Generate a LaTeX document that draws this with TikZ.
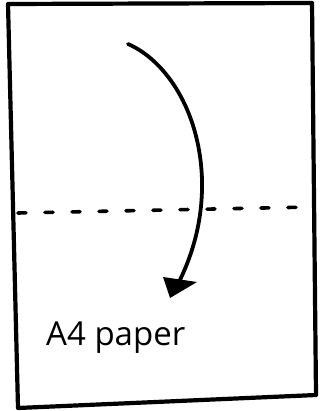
\documentclass[tikz,border=0pt]{standalone}
\usepackage{fontspec}
\setmainfont{Open Sans}
\begin{document}
\begin{tikzpicture}[x=1pt,y=-1pt,
  ink/.style={line width=4.2pt,line cap=round,line join=round,draw=black},
  foldline/.style={line width=3.6pt,line cap=round,dash pattern=on 8pt off 19pt,draw=black}]
\useasboundingbox (0,0) rectangle (320,411);
% paper
\draw[ink] (8,4) -- (312,3) -- (316,395) -- (18,408) -- cycle;
% fold line
\draw[foldline] (18,213) -- (312,207);
% curved arrow
\draw[ink,line width=3.8pt] (128,44) .. controls (165,60) and (200,110) .. (202,180)
  .. controls (203,225) and (190,260) .. (178,284);
\fill[black,line join=round] (163,277) -- (197,282) -- (170,298) -- cycle;
% label
\node[anchor=base west,font=\fontsize{33}{38}\selectfont,inner sep=0pt] (label) at (46,345) {A4 paper};
\end{tikzpicture}
\end{document}
